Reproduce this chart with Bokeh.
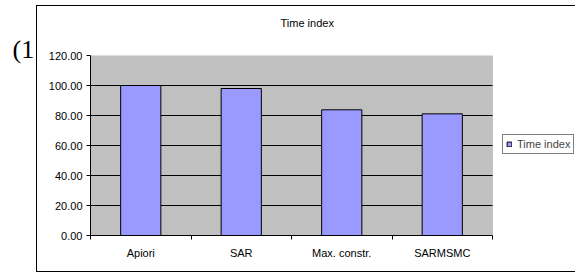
from bokeh.plotting import figure
from bokeh.models import (ColumnDataSource, FixedTicker, NumeralTickFormatter,
                          Range1d, Legend, LegendItem, Title, BoxAnnotation)
from bokeh.embed import file_html
from bokeh.resources import INLINE

categories = ["Apiori", "SAR", "Max. constr.", "SARMSMC"]
time_index = [100.0, 98.0, 83.8, 81.1]
y_ticks = [0, 20, 40, 60, 80, 100, 120]
series_name = "Time index"
side_note = "(1"

n = len(categories)
xs = [i + 0.5 for i in range(n)]
src = ColumnDataSource(dict(x=xs, top=time_index, cat=categories))
grid_src = ColumnDataSource(dict(y=y_ticks[1:-1]))

FONT = "Liberation Sans"

# outer chart-area border drawn as a CSS background behind a transparent canvas
border_css = ("linear-gradient(#000,#000) 36px 5px / 1px 267px no-repeat, "
              "linear-gradient(#000,#000) 36px 5px / 800px 1px no-repeat, "
              "linear-gradient(#000,#000) 36px 271px / 800px 1px no-repeat, #fff")

# the frame spans the plot area plus the legend zone to its right
PLOT_W, FRAME_W = 402, 485
p = figure(width=575, height=273, output_backend="svg", toolbar_location=None,
           x_range=Range1d(0, n * FRAME_W / PLOT_W), y_range=Range1d(0, y_ticks[-1]),
           min_border_left=90, min_border_right=0, min_border_top=55,
           min_border_bottom=38, styles={"background": border_css})

p.background_fill_color = None
p.border_fill_color = None
p.outline_line_color = None

# grey plot area
p.add_layout(BoxAnnotation(left=0, right=n, bottom=0, top=y_ticks[-1],
                           fill_color="#C0C0C0", fill_alpha=1,
                           line_color="#808080", line_width=1, level="image"))

# horizontal gridlines limited to the plot area
p.segment(x0=0, x1=n, y0="y", y1="y", source=grid_src, line_color="black", line_width=1)

r = p.vbar(x="x", top="top", width=0.4, source=src,
           fill_color="#9999FF", line_color="black", line_width=1)

p.xgrid.grid_line_color = None
p.ygrid.grid_line_color = None

# x axis: labels at centers, ticks at category boundaries
p.xaxis.bounds = (0, n)
p.xaxis.ticker = FixedTicker(ticks=xs, minor_ticks=list(range(n + 1)))
p.xaxis.major_label_overrides = {x: c for x, c in zip(xs, categories)}
p.xaxis.major_tick_out = 0
p.xaxis.major_tick_in = 0
p.xaxis.minor_tick_out = 4
p.xaxis.minor_tick_in = 0
p.xaxis.minor_tick_line_color = "black"
p.xaxis.axis_line_color = "black"
p.xaxis.major_label_standoff = 7
p.xaxis.major_label_text_font = FONT
p.xaxis.major_label_text_font_size = "11px"
p.xaxis.major_label_text_color = "black"

p.yaxis.ticker = FixedTicker(ticks=y_ticks)
p.yaxis.formatter = NumeralTickFormatter(format="0.00")
p.yaxis.major_tick_out = 4
p.yaxis.major_tick_in = 0
p.yaxis.minor_tick_line_color = None
p.yaxis.axis_line_color = "black"
p.yaxis.major_label_standoff = 4
p.yaxis.major_label_text_font = FONT
p.yaxis.major_label_text_font_size = "11px"
p.yaxis.major_label_text_color = "black"

p.title.text = ""

# "(1" fragment at the left, nearest to the frame
p.add_layout(Title(text=side_note, text_font="Liberation Serif", text_font_size="26px",
                   text_font_style="normal", text_color="black",
                   align="left", offset=-78, standoff=-16), "above")
# chart title
p.add_layout(Title(text=series_name, text_font=FONT, text_font_size="11px",
                   text_font_style="normal", text_color="black",
                   align="left", offset=190, standoff=24), "above")

legend = Legend(items=[LegendItem(label=series_name, renderers=[r])],
                location=(412, 81), orientation="vertical",
                padding=3, margin=0, spacing=0,
                glyph_width=6, glyph_height=6, label_standoff=5,
                label_text_font=FONT, label_text_font_size="11px",
                label_height=12, border_line_color="black",
                background_fill_color="white")
p.add_layout(legend, "center")

open("out.html", "w").write(file_html(p, INLINE))
